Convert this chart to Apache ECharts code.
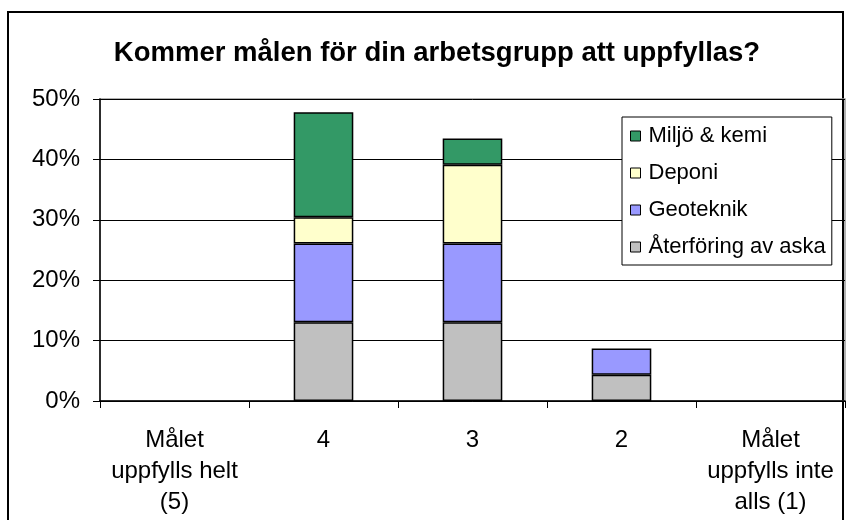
<!DOCTYPE html>
<html>
<head>
<meta charset="utf-8">
<script src="https://cdn.jsdelivr.net/npm/echarts@6/dist/echarts.min.js"></script>
<style>
  html, body { margin: 0; padding: 0; background: #fff; }
  #chart { width: 846px; height: 520px; }
</style>
</head>
<body>
<div id="chart"></div>
<script>
// svar per svarsalternativ, andel (%)
const categories = ['Målet\nuppfylls helt\n(5)', '4', '3', '2', 'Målet\nuppfylls inte\nalls (1)'];
const aterforing = [0, 13.04, 13.04, 4.35, 0];
const geoteknik = [0, 13.04, 13.04, 4.35, 0];
const deponi = [0, 4.35, 13.04, 0, 0];
const miljo = [0, 17.39, 4.35, 0, 0];
const yTicks = [0, 10, 20, 30, 40, 50];

const font = 'Arial, "Liberation Sans", sans-serif';

function bar(name, data, color) {
  return {
    name,
    type: 'bar',
    stack: 'total',
    barWidth: '40%',
    data: data.map((v) => (v === 0 ? null : v)),
    itemStyle: {
      color,
      borderColor: '#000',
      borderWidth: 1.5,
    },
  };
}

const myChart = echarts.init(document.getElementById('chart'), null, { renderer: 'canvas' });
myChart.setOption({
  animation: false,
  backgroundColor: '#fff',
  title: {
    text: 'Kommer målen för din arbetsgrupp att uppfyllas?',
    left: 432,
    top: 34,
    textAlign: 'center',
    textStyle: {
      fontFamily: font,
      fontWeight: 'bold',
      fontSize: 27.5,
      color: '#000',
    },
  },
  graphic: [
    {
      // ram runt diagrammet
      type: 'rect',
      shape: { x: 8, y: 12, width: 835, height: 520 },
      style: { fill: 'none', stroke: '#000', lineWidth: 2 },
      z: -1,
    },
    {
      // ram runt ritytan
      type: 'rect',
      shape: { x: 100, y: 99, width: 745, height: 302 },
      style: { fill: 'none', stroke: '#999', lineWidth: 1.5 },
      z: 0,
    },
  ],
  legend: {
    orient: 'vertical',
    left: 622,
    top: 117,
    data: ['Miljö & kemi', 'Deponi', 'Geoteknik', 'Återföring av aska'],
    icon: 'rect',
    itemWidth: 10,
    itemHeight: 10,
    itemGap: 15,
    padding: [8, 6, 7, 8],
    backgroundColor: '#fff',
    borderColor: '#000',
    borderWidth: 1,
    textStyle: {
      fontFamily: font,
      fontSize: 22,
      lineHeight: 22,
      color: '#000',
      padding: [0, 0, 0, 3],
    },
    itemStyle: { borderColor: '#000', borderWidth: 1 },
  },
  grid: {
    left: 100,
    right: 1,
    top: 99,
    bottom: 119,
    containLabel: false,
  },
  xAxis: {
    type: 'category',
    data: categories,
    boundaryGap: true,
    axisLine: { lineStyle: { color: '#000', width: 1.5 } },
    axisTick: { show: true, interval: 0, length: 7, lineStyle: { color: '#000' } },
    axisLabel: {
      interval: 0,
      margin: 24,
      fontFamily: font,
      fontSize: 24,
      lineHeight: 31,
      color: '#000',
    },
  },
  yAxis: {
    type: 'value',
    min: 0,
    max: 50,
    interval: 10,
    axisLine: { show: true, lineStyle: { color: '#000', width: 1.5 } },
    axisTick: { show: true, length: 7, lineStyle: { color: '#000' } },
    axisLabel: {
      margin: 20,
      fontFamily: font,
      fontSize: 24,
      color: '#000',
      formatter: (v) => (yTicks.includes(v) ? v + '%' : ''),
    },
    splitLine: { lineStyle: { color: '#000', width: 1 } },
  },
  series: [
    bar('Återföring av aska', aterforing, '#c0c0c0'),
    bar('Geoteknik', geoteknik, '#9999ff'),
    bar('Deponi', deponi, '#ffffcc'),
    bar('Miljö & kemi', miljo, '#339966'),
  ],
});
</script>
</body>
</html>
